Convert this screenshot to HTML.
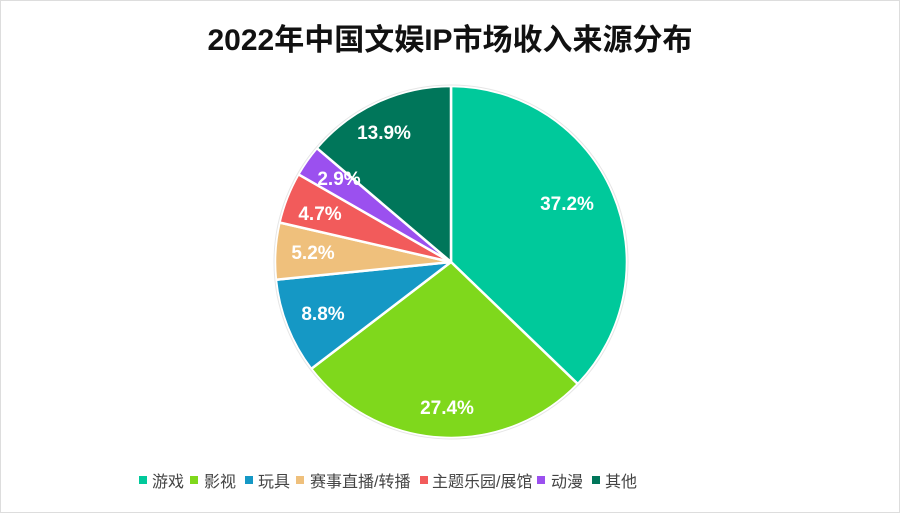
<!DOCTYPE html>
<html><head><meta charset="utf-8"><style>
body{margin:0;background:#fff;}
svg{display:block}
</style></head><body>
<svg width="900" height="513" viewBox="0 0 900 513" xmlns="http://www.w3.org/2000/svg">
<rect x="0" y="0" width="900" height="513" fill="#fff"/>
<rect x="0.5" y="0.5" width="899" height="512" fill="none" stroke="#ddd"/>
<text x="450" y="50" text-anchor="middle" font-family="Liberation Sans, Noto Sans CJK SC, sans-serif" font-weight="bold" font-size="30" fill="#111">2022年中国文娱IP市场收入来源分布</text>
<g stroke="#fff" stroke-width="2.5" stroke-linejoin="round">
<path d="M451,262 L451,86 A176,176 0 0 1 577.8,384.0 Z" fill="#00c99b"/>
<path d="M451,262 L577.8,384.0 A176,176 0 0 1 311.2,368.9 Z" fill="#7fd81c"/>
<path d="M451,262 L311.2,368.9 A176,176 0 0 1 275.9,279.7 Z" fill="#1598c5"/>
<path d="M451,262 L275.9,279.7 A176,176 0 0 1 279.5,222.5 Z" fill="#efc07c"/>
<path d="M451,262 L279.5,222.5 A176,176 0 0 1 298.4,174.3 Z" fill="#f25b5b"/>
<path d="M451,262 L298.4,174.3 A176,176 0 0 1 316.8,148.1 Z" fill="#9b50ef"/>
<path d="M451,262 L316.8,148.1 A176,176 0 0 1 451,86 Z" fill="#00765a"/>
</g>
<circle cx="451" cy="262" r="177" fill="none" stroke="#e6e6e6" stroke-width="1"/>
<g font-family="Liberation Sans, sans-serif" font-weight="bold" font-size="19" fill="#fff" text-anchor="middle">
<text x="567" y="210">37.2%</text>
<text x="447" y="414">27.4%</text>
<text x="323" y="320">8.8%</text>
<text x="313" y="259">5.2%</text>
<text x="320" y="220">4.7%</text>
<text x="339" y="185">2.9%</text>
<text x="384" y="139">13.9%</text>
</g>
<g font-family="Liberation Sans, Noto Sans CJK SC, sans-serif" font-size="16" fill="#444">
<rect x="139" y="476" width="8" height="8" fill="#00c99b"/><text x="152" y="487">游戏</text>
<rect x="190" y="476" width="8" height="8" fill="#7fd81c"/><text x="204" y="487">影视</text>
<rect x="245" y="476" width="8" height="8" fill="#1598c5"/><text x="258" y="487">玩具</text>
<rect x="296" y="476" width="8" height="8" fill="#efc07c"/><text x="310" y="487">赛事直播/转播</text>
<rect x="420" y="476" width="8" height="8" fill="#f25b5b"/><text x="432" y="487">主题乐园/展馆</text>
<rect x="537" y="476" width="8" height="8" fill="#9b50ef"/><text x="551" y="487">动漫</text>
<rect x="592" y="476" width="8" height="8" fill="#00765a"/><text x="605" y="487">其他</text>
</g>
</svg>
</body></html>
